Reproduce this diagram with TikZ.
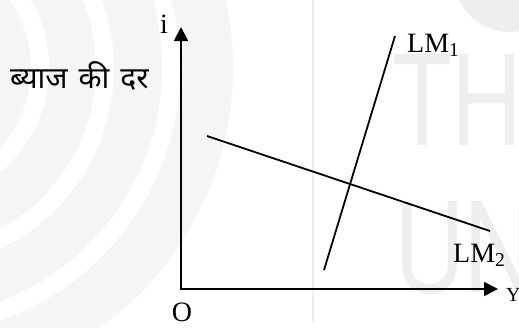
\documentclass[tikz,border=0pt]{standalone}
\usepackage{fontspec}
\setmainfont{Liberation Serif}
\newfontfamily\deva[Script=Devanagari]{Noto Sans}
\newfontfamily\wmfont{TeX Gyre Heros}
\usetikzlibrary{arrows.meta}
\definecolor{wm}{HTML}{EEEEEE}
\definecolor{wmlight}{HTML}{F5F5F5}
\tikzset{
  axisline/.style={line width=1.8pt},
  curve/.style={line width=1.8pt},
  lbl/.style={inner sep=0pt,font=\fontsize{28}{30}\selectfont},
  wmtext/.style={inner sep=0pt,text=wm,font=\wmfont\fontsize{125}{125}\selectfont,xscale=0.78}
}
\begin{document}
\begin{tikzpicture}[x=1pt,y=-1pt]
\useasboundingbox (0,0) rectangle (519,327);
% faint watermark
\begin{scope}
  \clip (0,0) rectangle (519,327);
  \fill[wmlight] (-87,68) circle (320);
  \foreach \r in {127,192,258}
    \draw[white,line width=18pt] (-87,68) circle (\r);
  \fill[wm] (510,-25) circle (57);
  \draw[wm,line width=2.5pt] (313,0) -- (313,322);
  \node[wmtext,anchor=base west] (wmth) at (392,145) {TH};
  \node[wmtext,anchor=base west] (wmun) at (394,292) {UN};
\end{scope}
% axes
\coordinate (O) at (181,289);
\coordinate (ytop) at (181,27);
\coordinate (xend) at (498,289);
\draw[axisline,{Triangle[length=14pt,width=14pt]}-{Triangle[length=14pt,width=14pt]}] (ytop) -- (O) -- (xend);
% curves
\coordinate (lm1a) at (395,36);
\coordinate (lm1b) at (324,270);
\coordinate (lm2a) at (207,136);
\coordinate (lm2b) at (490,231);
\draw[curve] (lm1a) -- (lm1b);
\draw[curve] (lm2a) -- (lm2b);
% labels
\node[lbl,anchor=base] (ilab) at (164,33) {i};
\node[lbl,anchor=base] (olab) at (182,321) {O};
\node[inner sep=0pt,anchor=base west,font=\fontsize{20}{22}\selectfont] (ylab) at (506,301) {Y};
\node[lbl,anchor=base west] (lm1lab) at (407,52) {LM\textsubscript{1}};
\node[lbl,anchor=base west] (lm2lab) at (453,262) {LM\textsubscript{2}};
\node[inner sep=0pt,anchor=base west] (hindi) at (10,88) {\deva\fontsize{30}{32}\selectfont ब्याज\hspace{11pt}की\hspace{11pt}दर};
\end{tikzpicture}
\end{document}
